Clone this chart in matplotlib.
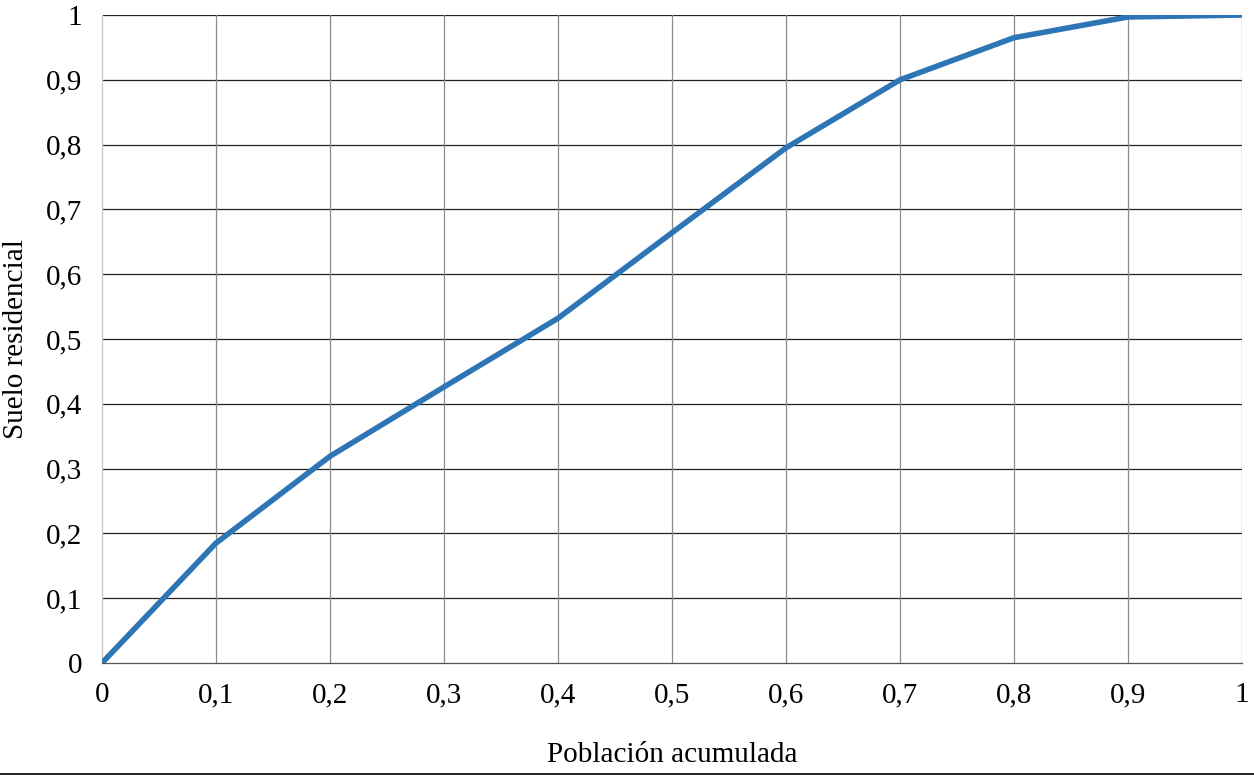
import matplotlib.pyplot as plt
from matplotlib.lines import Line2D

poblacion = [0, 0.1, 0.2, 0.3, 0.4, 0.5, 0.6, 0.7, 0.8, 0.9, 1.0]
suelo = [0, 0.185, 0.319, 0.426, 0.532, 0.664, 0.795, 0.900, 0.965, 0.997, 1.0]
ticks = [0, 0.1, 0.2, 0.3, 0.4, 0.5, 0.6, 0.7, 0.8, 0.9, 1.0]
tick_labels = ['0', '0,1', '0,2', '0,3', '0,4', '0,5', '0,6', '0,7', '0,8', '0,9', '1']

plt.rcParams['font.family'] = ['Liberation Serif', 'DejaVu Serif']
font_size = 21

fig = plt.figure(figsize=(12.54, 7.79), dpi=100)
ax = fig.add_axes([0.0813, 0.1489, 0.9091, 0.8318])

ax.plot(poblacion, suelo, color='#2E75B6', lw=4, solid_capstyle='round',
        solid_joinstyle='round', zorder=3)

ax.set_xlim(0, 1)
ax.set_ylim(0, 1)
ax.set_xticks(ticks)
ax.set_yticks(ticks)
ax.set_xticklabels(tick_labels, fontsize=font_size)
ax.set_yticklabels(tick_labels, fontsize=font_size)
ax.tick_params(axis='x', length=0, pad=14)
ax.tick_params(axis='y', length=0, pad=14)

for t in ticks[1:]:
    ax.axhline(t, color='#222222', lw=0.9, zorder=1)
for t in ticks[1:]:
    ax.axvline(t, color='#8c8c8c', lw=0.9, zorder=1)

for side in ['top', 'right']:
    ax.spines[side].set_visible(False)
ax.spines['left'].set_color('#c8c8c8')
ax.spines['left'].set_linewidth(0.9)
ax.spines['bottom'].set_color('#555555')
ax.spines['bottom'].set_linewidth(0.9)

ax.set_xlabel('Población acumulada', fontsize=font_size, labelpad=24)
ax.set_ylabel('Suelo residencial', fontsize=font_size, labelpad=12)

fig.add_artist(Line2D([0, 1], [0.0065, 0.0065], color='black', lw=1.2,
                      transform=fig.transFigure))

fig.savefig('out.png', dpi=100)
